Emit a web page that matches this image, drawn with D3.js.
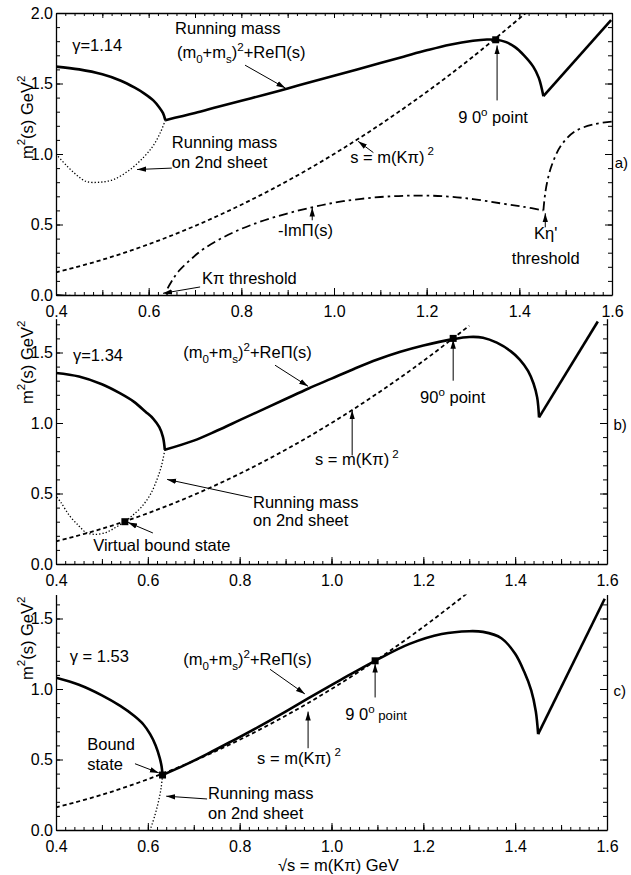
<!DOCTYPE html>
<html><head><meta charset="utf-8">
<script src="https://cdn.jsdelivr.net/npm/d3@7"></script>
<style>
body{margin:0;background:#fff;}
svg text{font-family:"Liberation Sans",Arial,Helvetica,sans-serif;fill:#000;}
</style></head><body>
<svg id="chart" width="631" height="875"></svg>
<script>
// ---------- data ----------
const xTickLabels = [0.4, 0.6, 0.8, 1.0, 1.2, 1.4, 1.6];
const yTicksA = [0.0, 0.5, 1.0, 1.5, 2.0];
const yTicksBC = [0.0, 0.5, 1.0, 1.5];

// panel a (gamma = 1.14)
const aSolidLeft = [[0.40,1.62],[0.45,1.60],[0.50,1.565],[0.54,1.52],[0.57,1.47],[0.59,1.43],[0.61,1.38],[0.623,1.33],[0.631,1.29],[0.636,1.24]];
const aSolidMid = [[0.636,1.24],[0.70,1.29],[0.75,1.335],[0.80,1.378],[0.85,1.42],[0.90,1.465],[0.95,1.51],[1.00,1.555],[1.05,1.60],[1.10,1.645],[1.15,1.69],[1.20,1.735],[1.25,1.775],[1.30,1.803],[1.33,1.812],[1.35,1.81],[1.37,1.795],[1.39,1.76],[1.41,1.70],[1.43,1.62],[1.442,1.54],[1.452,1.41]];
const aSolidRight = [[1.452,1.41],[1.598,1.95]];
const aDotted = [[0.636,1.24],[0.625,1.15],[0.61,1.06],[0.59,0.98],[0.56,0.89],[0.525,0.82],[0.495,0.80],[0.465,0.805],[0.445,0.85],[0.425,0.91],[0.40,1.00]];
const aDashed = [[0.4,0.16],[0.5,0.25],[0.6,0.36],[0.7,0.49],[0.8,0.64],[0.9,0.81],[1.0,1.0],[1.1,1.21],[1.2,1.44],[1.3,1.69],[1.414,2.0]];
const aImLow = [[0.40,0],[0.636,0],[0.64,0.04],[0.65,0.10],[0.665,0.17],[0.69,0.25],[0.72,0.33],[0.78,0.44],[0.85,0.53],[0.95,0.62],[1.02,0.665],[1.10,0.695],[1.17,0.705],[1.24,0.70],[1.30,0.68],[1.36,0.65],[1.41,0.625],[1.452,0.60]];
const aImHigh = [[1.452,0.60],[1.455,0.70],[1.46,0.80],[1.47,0.92],[1.49,1.06],[1.52,1.16],[1.56,1.21],[1.60,1.23]];
const aMarks = [[1.349,1.81]];

// panel b (gamma = 1.34)
const bSolidLeft = [[0.40,1.355],[0.45,1.33],[0.50,1.275],[0.54,1.21],[0.57,1.15],[0.595,1.08],[0.612,1.03],[0.625,0.97],[0.633,0.90],[0.637,0.81]];
const bSolidMid = [[0.637,0.81],[0.70,0.875],[0.75,0.945],[0.80,1.02],[0.85,1.095],[0.90,1.17],[0.95,1.245],[1.00,1.315],[1.05,1.385],[1.10,1.45],[1.15,1.505],[1.20,1.55],[1.265,1.595],[1.30,1.61],[1.33,1.605],[1.36,1.57],[1.39,1.51],[1.41,1.45],[1.428,1.37],[1.44,1.28],[1.448,1.18],[1.452,1.04]];
const bSolidRight = [[1.452,1.04],[1.58,1.72]];
const bDotted = [[0.637,0.81],[0.63,0.70],[0.62,0.60],[0.605,0.49],[0.585,0.40],[0.565,0.34],[0.55,0.30],[0.53,0.26],[0.51,0.225],[0.485,0.21],[0.465,0.225],[0.45,0.27],[0.43,0.34],[0.41,0.44],[0.40,0.48]];
const bDashed = [[0.4,0.16],[0.5,0.25],[0.6,0.36],[0.7,0.49],[0.8,0.64],[0.9,0.81],[1.0,1.0],[1.1,1.21],[1.2,1.44],[1.3,1.69]];
const bMarks = [[1.265,1.60],[0.55,0.30]];

// panel c (gamma = 1.53)
const cSolidLeft = [[0.40,1.08],[0.45,1.03],[0.50,0.955],[0.54,0.88],[0.57,0.81],[0.59,0.75],[0.605,0.68],[0.617,0.60],[0.626,0.51],[0.630,0.45],[0.632,0.39]];
const cSolidMid = [[0.632,0.39],[0.68,0.46],[0.73,0.54],[0.78,0.625],[0.84,0.73],[0.90,0.84],[0.95,0.935],[1.02,1.065],[1.095,1.20],[1.17,1.32],[1.24,1.39],[1.30,1.41],[1.33,1.405],[1.37,1.36],[1.40,1.25],[1.42,1.12],[1.435,0.99],[1.445,0.84],[1.45,0.68]];
const cSolidRight = [[1.45,0.68],[1.595,1.64]];
const cDotted = [[0.632,0.39],[0.629,0.30],[0.623,0.20],[0.615,0.10],[0.605,0.0]];
const cDashed = [[0.4,0.16],[0.5,0.25],[0.6,0.36],[0.7,0.49],[0.8,0.64],[0.9,0.81],[1.0,1.0],[1.1,1.21],[1.2,1.44],[1.3,1.69]];
const cMarks = [[1.095,1.20],[0.632,0.39]];

// ---------- layout ----------
const PX_PER_UNIT = 141;
const layout = [
  {left:56, right:612, zero:295, top:2.0, topBorder:true, yTicks:yTicksA, yLabelAt:1.26},
  {left:56, right:607, zero:564, top:1.74, topBorder:false, yTicks:yTicksBC, yLabelAt:1.43},
  {left:56, right:607, zero:830, top:1.67, topBorder:false, yTicks:yTicksBC, yLabelAt:1.36}
];

const svg = d3.select('#chart');
const defs = svg.append('defs');
defs.append('marker').attr('id','ah').attr('viewBox','0 0 10 10')
  .attr('refX',10).attr('refY',5).attr('markerWidth',9).attr('markerHeight',9)
  .attr('markerUnits','userSpaceOnUse').attr('orient','auto')
  .append('path').attr('d','M0,2L10,5L0,8Z').attr('fill','#000');

const FS = 16.5;
const TICK_FS = 16;
const PANEL_FS = 15;
function rich(g, x, y, parts, size, anchor) {
  size = size || FS;
  const t = g.append('text').attr('x', x).attr('y', y + 0.35*size)
    .attr('font-size', size).attr('text-anchor', anchor || 'start');
  let cur = 0;
  parts.forEach(p => {
    const kind = p[1];
    const s = kind === 'sup' ? -0.45*size : kind === 'sub' ? 0.3*size : 0;
    const ts = t.append('tspan').attr('dy', s - cur).text(p[0]);
    if (kind === 'sup' || kind === 'sub') ts.attr('font-size', size*0.7);
    if (kind === 'small') ts.attr('font-size', size*0.8);
    cur = s;
  });
  return t;
}

function drawPanel(i, series, notes) {
  const L = layout[i];
  const x = d3.scaleLinear().domain([0.4, 1.6]).range([L.left, L.right]);
  const y = d3.scaleLinear().domain([0, L.top]).range([L.zero, L.zero - L.top*PX_PER_UNIT]);
  const g = svg.append('g');
  const clipId = 'clip' + i;
  defs.append('clipPath').attr('id', clipId).append('rect')
    .attr('x', L.left).attr('y', y(L.top)).attr('width', L.right - L.left).attr('height', L.zero - y(L.top));

  const line = d3.line().x(d => x(d[0])).y(d => y(d[1])).curve(d3.curveCatmullRom.alpha(0.5));
  const straight = d3.line().x(d => x(d[0])).y(d => y(d[1]));
  const plot = g.append('g').attr('clip-path', `url(#${clipId})`);
  const styles = {
    solid: {w:2.6, dash:null},
    dotted: {w:1.3, dash:'1.3,2'},
    dashed: {w:1.8, dash:'4,3'},
    dashdot: {w:1.8, dash:'9,4,2.5,4'}
  };
  series.forEach(s => {
    const st = styles[s.style];
    plot.append('path').datum(s.data).attr('d', s.linear ? straight : line)
      .attr('fill','none').attr('stroke','#000').attr('stroke-width', st.w)
      .attr('stroke-dasharray', st.dash).attr('stroke-linejoin','round');
  });

  // axes
  const fmt = d3.format('.1f');
  const minorX = d3.range(20, 81).map(k => k/50);
  const midX = d3.range(4, 17).map(k => k/10);
  const minorY = d3.range(0, Math.floor(L.top*10 + 1e-6) + 1).map(k => k/10);

  g.append('g').attr('transform', `translate(0,${L.zero})`)
    .call(d3.axisBottom(x).tickValues(xTickLabels).tickFormat(fmt).tickSizeInner(-7).tickSizeOuter(0).tickPadding(11));
  g.append('g').attr('transform', `translate(0,${L.zero})`)
    .call(d3.axisBottom(x).tickValues(midX).tickFormat('').tickSizeInner(-5).tickSizeOuter(0))
    .call(a => a.select('.domain').remove());
  g.append('g').attr('transform', `translate(0,${L.zero})`)
    .call(d3.axisBottom(x).tickValues(minorX).tickFormat('').tickSizeInner(-3).tickSizeOuter(0))
    .call(a => a.select('.domain').remove());
  if (L.topBorder) {
    const yt = y(L.top);
    g.append('g').attr('transform', `translate(0,${yt})`)
      .call(d3.axisTop(x).tickValues(midX).tickFormat('').tickSizeInner(-5).tickSizeOuter(0));
    g.append('g').attr('transform', `translate(0,${yt})`)
      .call(d3.axisTop(x).tickValues(minorX).tickFormat('').tickSizeInner(-3).tickSizeOuter(0))
      .call(a => a.select('.domain').remove());
  }
  g.append('g').attr('transform', `translate(${L.left},0)`)
    .call(d3.axisLeft(y).tickValues(L.yTicks).tickFormat(fmt).tickSizeInner(-7).tickSizeOuter(0).tickPadding(3));
  g.append('g').attr('transform', `translate(${L.left},0)`)
    .call(d3.axisLeft(y).tickValues(minorY).tickFormat('').tickSizeInner(-4).tickSizeOuter(0))
    .call(a => a.select('.domain').remove());
  g.append('g').attr('transform', `translate(${L.right},0)`)
    .call(d3.axisRight(y).tickValues(L.yTicks).tickFormat('').tickSizeInner(-7).tickSizeOuter(0));
  g.append('g').attr('transform', `translate(${L.right},0)`)
    .call(d3.axisRight(y).tickValues(minorY).tickFormat('').tickSizeInner(-4).tickSizeOuter(0))
    .call(a => a.select('.domain').remove());
  g.selectAll('.domain').attr('stroke-width', 1.3);
  g.selectAll('.tick line').attr('stroke-width', 1);
  g.selectAll('.tick text').attr('font-size', TICK_FS).attr('font-family','"Liberation Sans",Arial,sans-serif');

  // markers (filled squares)
  plot.append('g').selectAll('rect').data(series.marks).join('rect')
    .attr('x', d => x(d[0]) - 3.5).attr('y', d => y(d[1]) - 3.5)
    .attr('width', 7).attr('height', 7).attr('fill', '#000');

  // y title
  const yl = g.append('g').attr('transform', `translate(${L.left - 29},${y(L.yLabelAt)}) rotate(-90)`);
  rich(yl, 0, 0, [['m'],['2','sup'],['(s) GeV'],['2','sup']], FS, 'middle');

  // annotations
  notes.texts.forEach(n => rich(g, x(n[0]), y(n[1]), n[2], n[3] || FS, n[4] || 'start'));
  notes.arrows.forEach(a => {
    g.append('line').attr('x1', x(a[0])).attr('y1', y(a[1])).attr('x2', x(a[2])).attr('y2', y(a[3]))
      .attr('stroke','#000').attr('stroke-width',1).attr('marker-end','url(#ah)');
  });
  return {x, y};
}

// panel a
const sa = [
  {style:'dotted', data:aDotted},
  {style:'dashed', data:aDashed},
  {style:'dashdot', data:aImLow},
  {style:'dashdot', data:aImHigh},
  {style:'solid', data:aSolidLeft},
  {style:'solid', data:aSolidMid},
  {style:'solid', data:aSolidRight, linear:true}
];
sa.marks = aMarks;
drawPanel(0, sa, {
  texts: [
    [0.435, 1.77, [['γ=1.14']]],
    [0.657, 1.89, [['Running mass']]],
    [0.661, 1.72, [['(m'],['0','sub'],['+m'],['s','sub'],[')'],['2','sup'],['+ReΠ(s)']]],
    [0.65, 1.08, [['Running mass']]],
    [0.65, 0.94, [['on 2nd sheet']]],
    [0.715, 0.12, [['Kπ threshold']]],
    [0.879, 0.46, [['-ImΠ(s)']]],
    [1.035, 0.98, [['s = m(Kπ)'],[' 2','sup']]],
    [1.268, 1.26, [['9 0'],['o','sup'],[' point']]],
    [1.457, 0.44, [['Kη\'']], FS, 'middle'],
    [1.457, 0.26, [['threshold']], FS, 'middle'],
    [1.606, 0.94, [['a)']], PANEL_FS]
  ],
  arrows: [
    [0.808, 1.63, 0.895, 1.468],
    [0.65, 0.90, 0.575, 0.89],
    [0.711, 0.057, 0.631, 0.012],
    [0.953, 0.53, 0.953, 0.62],
    [1.085, 1.01, 1.052, 1.09],
    [1.352, 1.38, 1.352, 1.77],
    [1.456, 0.48, 1.456, 0.58]
  ]
});

// panel b
const sb = [
  {style:'dotted', data:bDotted},
  {style:'dashed', data:bDashed},
  {style:'solid', data:bSolidLeft},
  {style:'solid', data:bSolidMid},
  {style:'solid', data:bSolidRight, linear:true}
];
sb.marks = bMarks;
drawPanel(1, sb, {
  texts: [
    [0.437, 1.48, [['γ=1.34']]],
    [0.677, 1.50, [['(m'],['0','sub'],['+m'],['s','sub'],[')'],['2','sup'],['+ReΠ(s)']]],
    [0.964, 0.74, [['s = m(Kπ)'],[' 2','sup']]],
    [1.193, 1.18, [['90'],['o','sup'],['  point']]],
    [0.829, 0.44, [['Running mass']]],
    [0.829, 0.31, [['on 2nd sheet']]],
    [0.481, 0.135, [['Virtual bound state']]],
    [1.614, 0.99, [['b)']], PANEL_FS]
  ],
  arrows: [
    [0.877, 1.41, 0.949, 1.26],
    [1.045, 0.77, 1.045, 1.09],
    [1.265, 1.30, 1.265, 1.59],
    [0.827, 0.47, 0.642, 0.60],
    [0.611, 0.22, 0.557, 0.295]
  ]
});

// panel c
const sc = [
  {style:'dotted', data:cDotted},
  {style:'dashed', data:cDashed},
  {style:'solid', data:cSolidLeft},
  {style:'solid', data:cSolidMid},
  {style:'solid', data:cSolidRight, linear:true}
];
sc.marks = cMarks;
const pc = drawPanel(2, sc, {
  texts: [
    [0.43, 1.23, [['γ = 1.53']]],
    [0.677, 1.21, [['(m'],['0','sub'],['+m'],['s','sub'],[')'],['2','sup'],['+ReΠ(s)']]],
    [0.468, 0.61, [['Bound']]],
    [0.468, 0.47, [['state']]],
    [0.731, 0.26, [['Running mass']]],
    [0.731, 0.12, [['on 2nd sheet']]],
    [0.838, 0.51, [['s = m(Kπ)'],[' 2','sup']]],
    [1.03, 0.82, [['9 0'],['o','sup'],[' point','small']]],
    [1.614, 0.99, [['c)']], PANEL_FS]
  ],
  arrows: [
    [0.866, 1.14, 0.942, 0.965],
    [0.572, 0.47, 0.624, 0.405],
    [0.729, 0.22, 0.64, 0.24],
    [0.949, 0.58, 0.949, 0.84],
    [1.095, 0.94, 1.095, 1.18]
  ]
});
// x-axis title
rich(svg, pc.x(1.015), pc.y(0) + 35, [['√s =  m(Kπ)  GeV']], FS, 'middle');
</script>
</body></html>
